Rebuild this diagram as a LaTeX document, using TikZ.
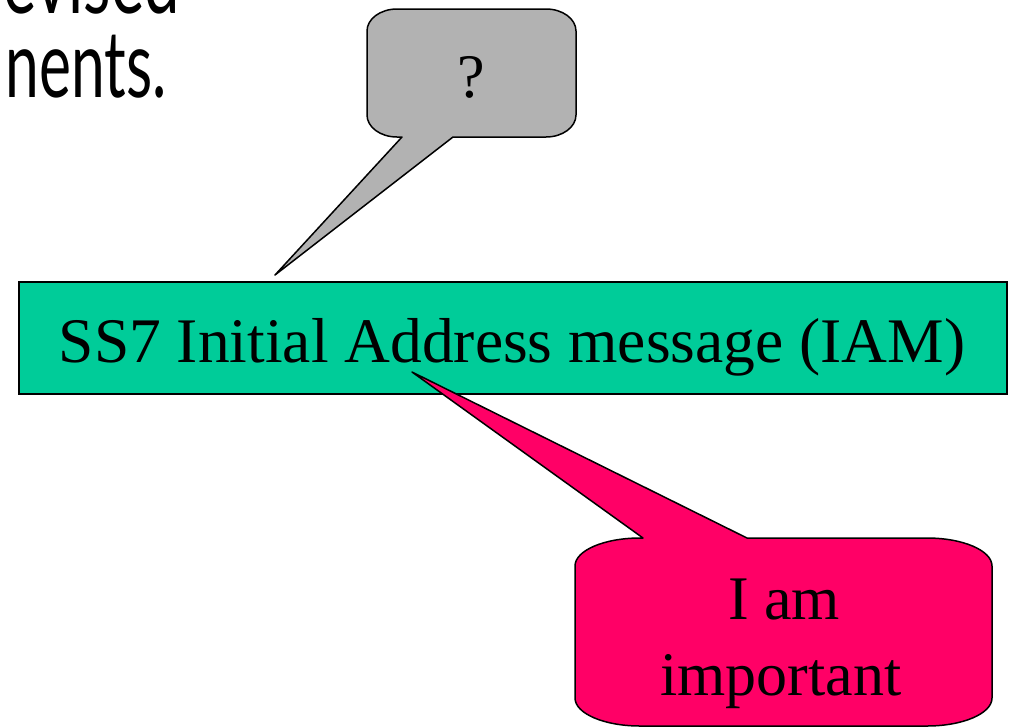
\documentclass[tikz,border=0pt]{standalone}
\usepackage{graphicx}
\usepackage{fontspec}
\setmainfont{Liberation Serif}
\newfontfamily\slidefont{Lato}
\definecolor{iamgreen}{HTML}{00CC99}
\definecolor{bubblegray}{HTML}{B2B2B2}
\definecolor{bubblepink}{HTML}{FF0066}
\begin{document}
\begin{tikzpicture}[x=1pt,y=-1pt,
  bubble/.style={draw=black, line width=1.5pt, line join=round},
  msgbox/.style={draw=black, fill=iamgreen, line width=2pt, minimum width=988pt,
    minimum height=112pt, inner sep=0pt, outer sep=0pt},
  serif/.style={inner sep=0pt, font=\fontsize{63.5}{76}\selectfont},
  bubbletext/.style={inner sep=0pt, font=\fontsize{62}{74}\selectfont},
  slidetext/.style={inner sep=0pt, font=\slidefont\fontsize{93}{100}\selectfont}]
\useasboundingbox (0,0) rectangle (1009,726);

% slide text running in from the left
\node[slidetext, anchor=base east] (line1) at (180,13) {\scalebox{0.68}[1]{evised}};
\node[slidetext, anchor=base east] (line2) at (167,97) {\scalebox{0.65}[1]{nents.}};

% grey "?" speech bubble, pointing down at the message
\coordinate (graytip) at (275,275);
\path[bubble, fill=bubblegray]
  (397,9) -- (546,9) .. controls (562.6,9) and (576,18.9) .. (576,31)
  -- (576,115) .. controls (576,127.1) and (562.6,137) .. (546,137)
  -- (453,137) -- (graytip) -- (402,137) -- (397,137)
  .. controls (380.4,137) and (367,127.1) .. (367,115)
  -- (367,31) .. controls (367,18.9) and (380.4,9) .. (397,9) -- cycle;
\node[bubbletext, anchor=base] (question) at (471,97) {?};

% the message box
\node[msgbox] (iam) at (513,338) {};
\node[serif, anchor=base] (iamtext) at (512,362) {SS7 Initial Address message (IAM)};

% pink speech bubble, pointing up into the message
\coordinate (pinktip) at (412,372);
\path[bubble, fill=bubblepink]
  (640,538) -- (643,538) -- (pinktip) -- (747,538) -- (927,538)
  .. controls (962.9,538) and (992,550.5) .. (992,566)
  -- (992,698) .. controls (992,713.5) and (962.9,726) .. (927,726)
  -- (640,726) .. controls (604.1,726) and (575,713.5) .. (575,698)
  -- (575,566) .. controls (575,550.5) and (604.1,538) .. (640,538) -- cycle;
\node[bubbletext, anchor=base] (imp1) at (784,619) {I am};
\node[bubbletext, anchor=base] (imp2) at (781,695) {important};
\end{tikzpicture}
\end{document}
